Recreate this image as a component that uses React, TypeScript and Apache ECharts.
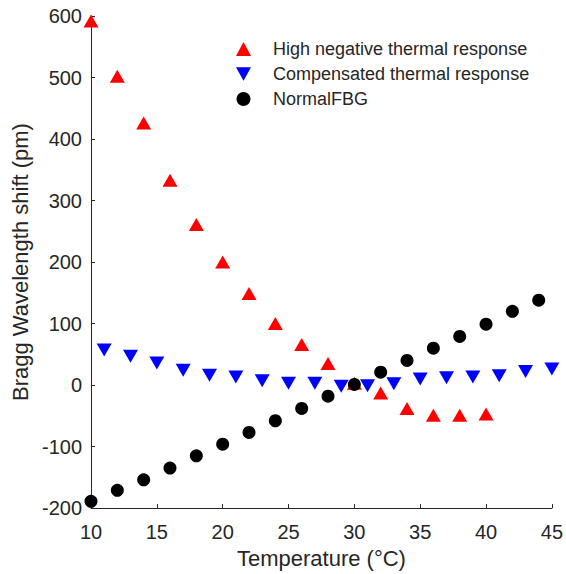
import React, { useEffect, useRef } from "react";
import * as echarts from "echarts";

const highX = [10, 12, 14, 16, 18, 20, 22, 24, 26, 28, 30, 32, 34, 36, 38, 40];
const highY = [592, 502, 426, 333, 261, 200, 149, 100, 66, 35, 3, -13, -38, -49, -49, -47];

const compX = [11, 13, 15, 17, 19, 21, 23, 25, 27, 29, 31, 33, 35, 37, 39, 41, 43, 45];
const compY = [57, 47, 36, 24, 16, 13, 7, 3, 3, -2, -1, 2, 10, 12, 13, 15, 22, 26];

const normX = [10, 12, 14, 16, 18, 20, 22, 24, 26, 28, 30, 32, 34, 36, 38, 40, 42, 44];
const normY = [-189, -171, -154, -135, -115, -96, -77, -58, -38, -18, 1, 21, 40, 60, 79, 99, 120, 138];

const seriesNames = ["High negative thermal response", "Compensated thermal response", "NormalFBG"];

const FONT = "'Liberation Sans', Arial, Helvetica, sans-serif";
const TEXT = "#262626";

const zip = (xs: number[], ys: number[]) => xs.map((x, i) => [x, ys[i]]);

export default function App() {
  const ref = useRef<HTMLDivElement>(null);
  useEffect(() => {
    if (!ref.current) return;
    const chart = echarts.init(ref.current, undefined, { renderer: "svg" });
    chart.setOption({
      animation: false,
      backgroundColor: "#ffffff",
      textStyle: { fontFamily: FONT },
      grid: { left: 91, right: 11, top: 16, bottom: 65, containLabel: false },
      legend: {
        orient: "vertical",
        left: 231,
        top: 35,
        itemWidth: 15,
        itemHeight: 14,
        itemGap: 7,
        textStyle: { fontSize: 18, color: TEXT, fontFamily: FONT, padding: [0, 0, 0, 17] },
        data: seriesNames,
      },
      xAxis: {
        type: "value",
        min: 10,
        max: 45,
        interval: 5,
        name: "Temperature (°C)",
        nameLocation: "middle",
        nameGap: 38,
        nameTextStyle: { fontSize: 22, color: TEXT, fontFamily: FONT },
        axisLine: { show: true, onZero: false, lineStyle: { color: TEXT, width: 1 } },
        axisTick: { show: true, inside: true, length: 4, lineStyle: { color: TEXT } },
        axisLabel: { fontSize: 20, color: TEXT, margin: 14, fontFamily: FONT },
        splitLine: { show: false },
      },
      yAxis: {
        type: "value",
        min: -200,
        max: 600,
        interval: 100,
        name: "Bragg Wavelength shift (pm)",
        nameLocation: "middle",
        nameGap: 54,
        nameTextStyle: { fontSize: 22, color: TEXT, fontFamily: FONT },
        axisLine: { show: true, onZero: false, lineStyle: { color: TEXT, width: 1 } },
        axisTick: { show: true, inside: true, length: 4, lineStyle: { color: TEXT } },
        axisLabel: { fontSize: 20, color: TEXT, margin: 9, fontFamily: FONT },
        splitLine: { show: false },
      },
      series: [
        {
          name: seriesNames[0],
          type: "scatter",
          symbol: "triangle",
          symbolSize: [15, 13],
          itemStyle: { color: "#ff0000", opacity: 1 },
          data: zip(highX, highY),
        },
        {
          name: seriesNames[1],
          type: "scatter",
          symbol: "path://M0,0 L10,0 L5,9 Z",
          symbolSize: [15, 13],
          itemStyle: { color: "#0000ff", opacity: 1 },
          data: zip(compX, compY),
        },
        {
          name: seriesNames[2],
          type: "scatter",
          symbol: "circle",
          symbolSize: 13,
          itemStyle: { color: "#000000", opacity: 1 },
          data: zip(normX, normY),
        },
      ],
    });
    return () => chart.dispose();
  }, []);
  return <div ref={ref} style={{ width: 566, height: 574, position: "absolute", left: 0, top: 0 }} />;
}
